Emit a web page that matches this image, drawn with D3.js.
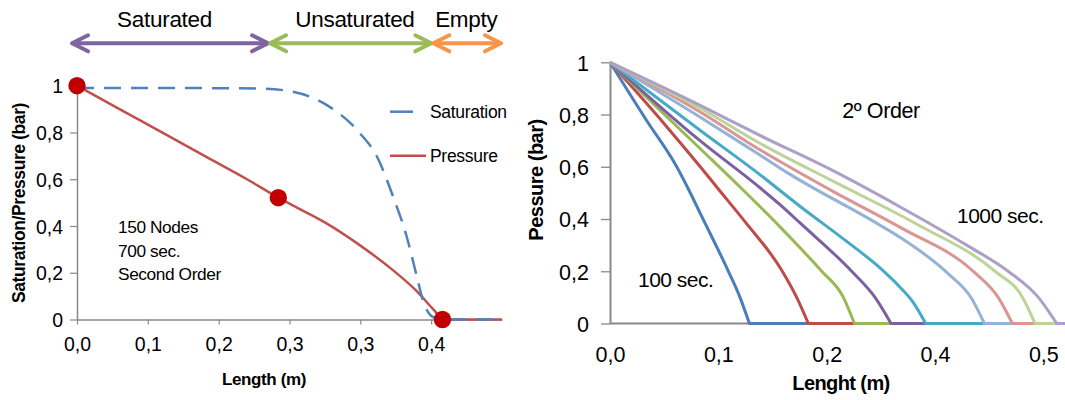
<!DOCTYPE html>
<html><head><meta charset="utf-8">
<script src="https://cdn.jsdelivr.net/npm/d3@7"></script>
<style>
body{margin:0;background:#fff}
svg{display:block}
text{font-family:"Liberation Sans",Arial,sans-serif;fill:#000}
</style>
</head><body>
<svg id="c" width="1065" height="400"></svg>
<script>
// ---------- LEFT CHART DATA ----------
const zoneNames = ["Saturated", "Unsaturated", "Empty"];
const zoneBounds = [-0.007, 0.226, 0.418, 0.5];
const zoneColors = ["#8064A2", "#9BBB59", "#F79646"];
const zoneLabelX = [0.103, 0.327, 0.458];

const satLength = [0, 0.1, 0.215, 0.254, 0.294, 0.333, 0.353, 0.372, 0.388, 0.40, 0.407, 0.419, 0.43, 0.5];
const satValue  = [0.99, 0.99, 0.988, 0.974, 0.917, 0.796, 0.696, 0.524, 0.353, 0.181, 0.081, 0.01, 0, 0];

const presLength = [0, 0.05, 0.1, 0.15, 0.2, 0.2368, 0.265, 0.294, 0.333, 0.372, 0.40, 0.415, 0.425, 0.43, 0.5];
const presValue  = [1, 0.9, 0.8, 0.7, 0.6, 0.521, 0.467, 0.41, 0.317, 0.21, 0.12, 0.06, 0.02, 0, 0];

const markerLength = [0, 0.2368, 0.43];
const markerValue  = [1, 0.521, 0];

const leftXTicks = [0, 1/12, 2/12, 3/12, 4/12, 5/12];
const leftXTickLabels = ["0,0", "0,1", "0,2", "0,3", "0,3", "0,4"];
const leftYTicks = [0, 0.2, 0.4, 0.6, 0.8, 1];
const leftYTickLabels = ["0", "0,2", "0,4", "0,6", "0,8", "1"];
const leftLegend = ["Saturation", "Pressure"];
const leftNotes = ["150 Nodes", "700 sec.", "Second Order"];

// ---------- RIGHT CHART DATA ----------
const times = [100, 200, 300, 400, 500, 700, 800, 900, 1000];
const seriesColors = ["#4A7EBB", "#BE4B48", "#98B954", "#7D60A0", "#46AAC5", "#95B3D7", "#D99694", "#BDD398", "#AE9FC8"];

const len100 = [0, 0.04, 0.0739, 0.0868, 0.1016, 0.1311, 0.144, 0.1544, 0.505];
const pres100 = [1, 0.78, 0.6, 0.515, 0.41, 0.2, 0.1, 0, 0];
const len200 = [0, 0.06, 0.1, 0.12, 0.1495, 0.19, 0.2068, 0.2197, 0.505];
const pres200 = [1, 0.765, 0.6, 0.515, 0.39, 0.205, 0.1, 0, 0];
const len300 = [0, 0.0997, 0.1477, 0.1883, 0.2105, 0.2345, 0.2585, 0.2707, 0.505];
const pres300 = [1, 0.67, 0.51, 0.37, 0.29, 0.2, 0.1, 0, 0];
const len400 = [0, 0.0997, 0.166, 0.1883, 0.2105, 0.2677, 0.2936, 0.3113, 0.505];
const pres400 = [1, 0.70, 0.52, 0.455, 0.385, 0.2, 0.1, 0, 0];
const len500 = [0, 0.0997, 0.166, 0.21, 0.26, 0.30, 0.321, 0.336, 0.3497, 0.505];
const pres500 = [1, 0.74, 0.57, 0.45, 0.32, 0.21, 0.14, 0.08, 0, 0];
const len700 = [0, 0.1, 0.166, 0.2, 0.2973, 0.3212, 0.3748, 0.4007, 0.4147, 0.505];
const pres700 = [1, 0.79, 0.645, 0.57, 0.38, 0.33, 0.19, 0.095, 0, 0];
const len800 = [0, 0.1, 0.166, 0.1883, 0.25, 0.323, 0.404, 0.43, 0.4457, 0.505];
const pres800 = [1, 0.81, 0.665, 0.62, 0.50, 0.365, 0.195, 0.1, 0, 0];
const len900 = [0, 0.1, 0.166, 0.247, 0.34, 0.4265, 0.457, 0.4708, 0.505];
const pres900 = [1, 0.824, 0.69, 0.545, 0.38, 0.2, 0.1, 0, 0];
const len1000 = [0, 0.1, 0.166, 0.247, 0.321, 0.395, 0.441, 0.4745, 0.4948, 0.505];
const pres1000 = [1, 0.835, 0.72, 0.585, 0.447, 0.30, 0.2, 0.1, 0, 0];

const rightXTicks = [0, 0.12, 0.24, 0.36, 0.48];
const rightXTickLabels = ["0,0", "0,1", "0,2", "0,4", "0,5"];
const rightYTicks = [0, 0.2, 0.4, 0.6, 0.8, 1];
const rightYTickLabels = ["0", "0,2", "0,4", "0,6", "0,8", "1"];

const rightLengths = [len100, len200, len300, len400, len500, len700, len800, len900, len1000];
const rightPressures = [pres100, pres200, pres300, pres400, pres500, pres700, pres800, pres900, pres1000];

// ---------- DRAW ----------
const svg = d3.select("#c");
const AXIS = "#898989";
const FONT = '"Liberation Sans", Arial, sans-serif';

function zip(xs, ys) { return xs.map((x, i) => [x, ys[i]]); }
// smooth up to the first zero, then straight along zero
function pathWithTail(pts, x, y) {
  let k = pts.findIndex(p => p[1] === 0);
  if (k < 0) k = pts.length - 1;
  const head = pts.slice(0, k + 1);
  const tail = pts.slice(k);
  const line = d3.line().x(d => x(d[0])).y(d => y(d[1])).curve(d3.curveMonotoneX);
  let d = line(head);
  tail.slice(1).forEach(p => { d += "L" + x(p[0]) + "," + y(p[1]); });
  return d;
}

// ===== LEFT =====
const xL = d3.scaleLinear().domain([0, 0.5]).range([77, 502]);
const yL = d3.scaleLinear().domain([0, 1]).range([319.5, 85.7]);

// zone arrows
const gz = svg.append("g");
zoneNames.forEach((name, i) => {
  const x0 = xL(zoneBounds[i]) + 1, x1 = xL(zoneBounds[i + 1]) - 1, y = 43.3;
  const c = zoneColors[i];
  const g = gz.append("g").attr("stroke", c).attr("stroke-width", 4)
    .attr("fill", "none").attr("stroke-linecap", "round").attr("stroke-linejoin", "round");
  g.append("line").attr("x1", x0 + 1).attr("x2", x1 - 1).attr("y1", y).attr("y2", y);
  g.append("path").attr("d", `M${x0 + 16},${y - 8}L${x0},${y}L${x0 + 16},${y + 8}`);
  g.append("path").attr("d", `M${x1 - 16},${y - 8}L${x1},${y}L${x1 - 16},${y + 8}`);
  gz.append("text").attr("x", xL(zoneLabelX[i])).attr("y", 26.5)
    .attr("text-anchor", "middle").style("font-size", "22.5px").style("letter-spacing", "-0.3px").text(name);
});

// axes left
const gxL = svg.append("g").attr("transform", "translate(0,319.5)")
  .call(d3.axisBottom(xL).tickValues(leftXTicks).tickFormat((d, i) => leftXTickLabels[i]).tickSize(5).tickSizeOuter(0));
const gyL = svg.append("g").attr("transform", "translate(77,0)")
  .call(d3.axisLeft(yL).tickValues(leftYTicks).tickFormat((d, i) => leftYTickLabels[i]).tickSize(7).tickSizeOuter(0));
[gxL, gyL].forEach(g => {
  g.select(".domain").attr("stroke", AXIS).attr("stroke-width", 1.5);
  g.selectAll(".tick line").attr("stroke", AXIS).attr("stroke-width", 1.2);
  g.selectAll("text").attr("fill", "#000").style("font-family", FONT).style("font-size", "19.5px");
});
gxL.selectAll("text").attr("y", 31.5).attr("dy", 0);
gyL.selectAll("text").attr("x", -14).attr("dy", "0.36em");

// axis titles left
svg.append("text").attr("x", 264).attr("y", 385).attr("text-anchor", "middle")
  .style("font-size", "17px").style("font-weight", "bold").style("letter-spacing", "-0.4px").text("Length (m)");
svg.append("text").attr("transform", "translate(25,203) rotate(-90)").attr("text-anchor", "middle")
  .style("font-size", "17.5px").style("font-weight", "bold").style("letter-spacing", "-0.4px").text("Saturation/Pressure (bar)");

// series left
svg.append("path").attr("d", pathWithTail(zip(presLength, presValue), xL, yL))
  .attr("fill", "none").attr("stroke", "#C0504D").attr("stroke-width", 2.5);
svg.append("path").attr("d", pathWithTail(zip(satLength, satValue), xL, yL))
  .attr("fill", "none").attr("stroke", "#4F81BD").attr("stroke-width", 2.5).attr("stroke-dasharray", "17,10");
svg.append("g").selectAll("circle").data(zip(markerLength, markerValue)).join("circle")
  .attr("cx", d => xL(d[0])).attr("cy", d => yL(d[1])).attr("r", 8.7).attr("fill", "#C00000");

// legend left
svg.append("line").attr("x1", 390).attr("x2", 413).attr("y1", 111.7).attr("y2", 111.7)
  .attr("stroke", "#4F81BD").attr("stroke-width", 2.5);
svg.append("line").attr("x1", 390).attr("x2", 426).attr("y1", 155.7).attr("y2", 155.7)
  .attr("stroke", "#C0504D").attr("stroke-width", 2.5);
svg.append("text").attr("x", 430).attr("y", 118).style("font-size", "17.5px").style("letter-spacing", "-0.3px").text(leftLegend[0]);
svg.append("text").attr("x", 430).attr("y", 162).style("font-size", "17.5px").style("letter-spacing", "-0.3px").text(leftLegend[1]);

// notes
leftNotes.forEach((t, i) => {
  svg.append("text").attr("x", 118).attr("y", 233.3 + i * 23.4)
    .style("font-size", "17.3px").style("letter-spacing", "-0.4px").text(t);
});

// ===== RIGHT =====
const xR = d3.scaleLinear().domain([0, 0.5]).range([610, 1061.4]);
const yR = d3.scaleLinear().domain([0, 1]).range([323.5, 62.3]);

const gxR = svg.append("g").attr("transform", "translate(0,323.5)")
  .call(d3.axisBottom(xR).tickValues(rightXTicks).tickFormat((d, i) => rightXTickLabels[i]).tickSize(0).tickSizeOuter(0));
gxR.select(".domain").remove();
gxR.append("line").attr("x1", xR(0)).attr("x2", xR(0.505)).attr("stroke", AXIS).attr("stroke-width", 2);
gxR.selectAll("text").attr("y", 38.5).attr("dy", 0).attr("fill", "#000")
  .style("font-family", FONT).style("font-size", "21.5px");

const gyR = svg.append("g").attr("transform", "translate(610,0)")
  .call(d3.axisLeft(yR).tickValues(rightYTicks).tickFormat((d, i) => rightYTickLabels[i]).tickSize(9).tickSizeOuter(0));
gyR.select(".domain").attr("stroke", AXIS).attr("stroke-width", 2);
gyR.selectAll(".tick line").attr("stroke", AXIS).attr("stroke-width", 1.3);
gyR.selectAll("text").attr("x", -21).attr("dy", "0.36em").attr("fill", "#000")
  .style("font-family", FONT).style("font-size", "21.5px");

// series right
const gs = svg.append("g");
rightLengths.forEach((ls, i) => {
  gs.append("path").attr("d", pathWithTail(zip(ls, rightPressures[i]), xR, yR))
    .attr("fill", "none").attr("stroke", seriesColors[i]).attr("stroke-width", 3)
    .attr("stroke-linejoin", "round");
});

// titles right
svg.append("text").attr("x", 841).attr("y", 390).attr("text-anchor", "middle")
  .style("font-size", "20px").style("font-weight", "bold").style("letter-spacing", "-0.6px").text("Lenght (m)");
svg.append("text").attr("transform", "translate(543,180) rotate(-90)").attr("text-anchor", "middle")
  .style("font-size", "20px").style("font-weight", "bold").style("letter-spacing", "-0.5px").text("Pessure (bar)");

// annotations right
svg.append("text").attr("x", 881).attr("y", 118).attr("text-anchor", "middle")
  .style("font-size", "21.5px").style("letter-spacing", "-0.4px").text("2º Order");
svg.append("text").attr("x", 957).attr("y", 222.5)
  .style("font-size", "21px").style("letter-spacing", "-0.5px").text(times[times.length - 1] + " sec.");
svg.append("text").attr("x", 638).attr("y", 287)
  .style("font-size", "21px").style("letter-spacing", "-0.5px").text(times[0] + " sec.");
</script>
</body></html>
